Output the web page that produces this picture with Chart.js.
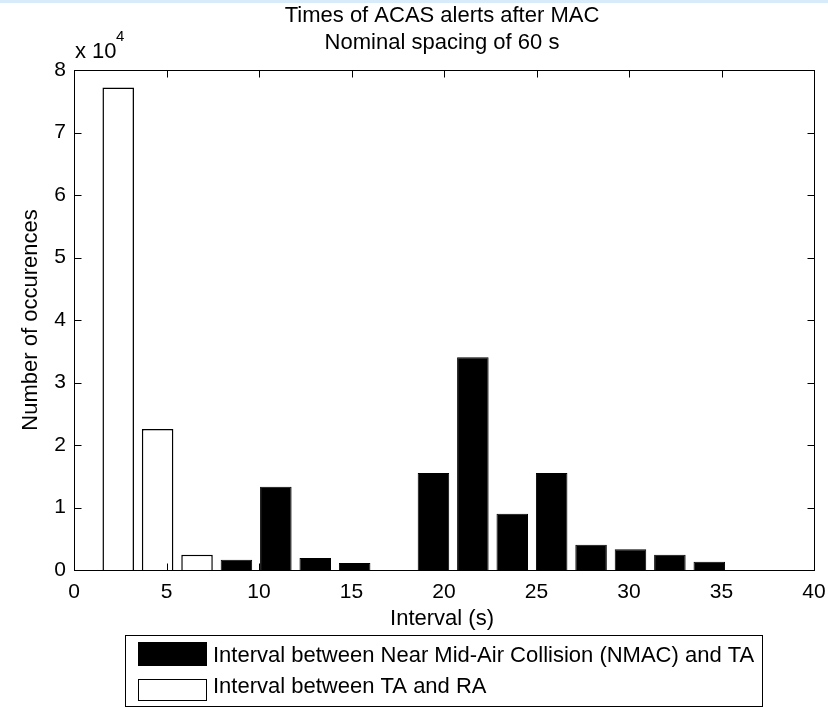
<!DOCTYPE html>
<html>
<head>
<meta charset="utf-8">
<script src="https://cdn.jsdelivr.net/npm/chart.js@4.4.1/dist/chart.umd.min.js"></script>
<style>
  html, body { margin: 0; padding: 0; background: #ffffff; }
  #wrap { position: relative; width: 828px; height: 708px; }
  canvas { display: block; }
</style>
</head>
<body>
<div id="wrap"><canvas id="c" width="828" height="708"></canvas></div>
<script>
// ---- Data ----
const titleLines = ["Times of ACAS alerts after MAC", "Nominal spacing of 60 s"];
const xAxisTitle = "Interval (s)";
const yAxisTitle = "Number of occurences";
const seriesNames = ["Interval between Near Mid-Air Collision (NMAC) and TA", "Interval between TA and RA"];
const binCenters = [2.39, 4.52, 6.65, 8.78, 10.91, 13.04, 15.17, 17.30, 19.43, 21.56, 23.69, 25.82, 27.95, 30.08, 32.21, 34.34];
const nmacToTA   = [0, 0, 0, 1650, 13330, 1920, 1120, 0, 15520, 34030, 9010, 15520, 4050, 3310, 2450, 1330];
const taToRA     = [77200, 22560, 2450, 0, 0, 0, 0, 0, 0, 0, 0, 0, 0, 0, 0, 0];
const xTicks = [0, 5, 10, 15, 20, 25, 30, 35, 40];
const yTicks = [0, 10000, 20000, 30000, 40000, 50000, 60000, 70000, 80000];
const yExponentBase = "x 10";
const yExponent = "4";

const FONT = "'Liberation Sans', Arial, Helvetica, sans-serif";

function toPoints(vals) {
  const pts = [];
  for (let i = 0; i < binCenters.length; i++) {
    if (vals[i] > 0) pts.push({ x: binCenters[i], y: vals[i] });
  }
  return pts;
}

const decorPlugin = {
  id: 'decor',
  beforeDraw(chart) {
    const ctx = chart.ctx;
    ctx.save();
    ctx.fillStyle = '#ffffff';
    ctx.fillRect(0, 0, chart.width, chart.height);
    ctx.fillStyle = '#d8ebfb';
    ctx.fillRect(0, 0, chart.width, 3);
    ctx.restore();
  },
  afterDraw(chart) {
    const ctx = chart.ctx;
    const a = chart.chartArea;
    const xs = chart.scales.x, ys = chart.scales.y;
    ctx.save();
    // axes box
    ctx.strokeStyle = '#000';
    ctx.lineWidth = 1;
    const L = Math.round(a.left) + 0.5, R = Math.round(a.right) + 0.5;
    const T = Math.round(a.top) + 0.5, B = Math.round(a.bottom) + 0.5;
    ctx.strokeRect(L, T, R - L, B - T);
    // inward ticks
    const tl = 7;
    ctx.beginPath();
    xTicks.forEach(v => {
      const px = Math.round(xs.getPixelForValue(v)) + 0.5;
      ctx.moveTo(px, B); ctx.lineTo(px, B - tl);
      ctx.moveTo(px, T); ctx.lineTo(px, T + tl);
    });
    yTicks.forEach(v => {
      const py = Math.round(ys.getPixelForValue(v)) + 0.5;
      ctx.moveTo(L, py); ctx.lineTo(L + tl, py);
      ctx.moveTo(R, py); ctx.lineTo(R - tl, py);
    });
    ctx.stroke();

    ctx.fillStyle = '#000';
    // title
    const cx = (a.left + a.right) / 2 - 2;
    ctx.font = '22px ' + FONT;
    ctx.textAlign = 'center';
    ctx.textBaseline = 'alphabetic';
    ctx.fillText(titleLines[0], cx, 22);
    ctx.fillText(titleLines[1], cx, 49);
    // exponent label
    ctx.textAlign = 'left';
    ctx.fillText(yExponentBase, 75, 58);
    ctx.font = '15px ' + FONT;
    ctx.fillText(yExponent, 116, 41);
    // axis titles
    ctx.font = '22px ' + FONT;
    ctx.textAlign = 'center';
    ctx.fillText(xAxisTitle, cx, 625);
    ctx.save();
    ctx.translate(37, (a.top + a.bottom) / 2);
    ctx.rotate(-Math.PI / 2);
    ctx.fillText(yAxisTitle, 0, 0);
    ctx.restore();

    // legend
    const lx = 125, ly = 635, lw = 637, lh = 71;
    ctx.fillStyle = '#fff';
    ctx.fillRect(lx, ly, lw, lh);
    ctx.strokeStyle = '#000';
    ctx.strokeRect(lx + 0.5, ly + 0.5, lw, lh);
    const sw = [
      { y: 642, h: 24, fill: chart.data.datasets[0].backgroundColor, ty: 662 },
      { y: 679, h: 22, fill: chart.data.datasets[1].backgroundColor, ty: 693 }
    ];
    ctx.font = '22px ' + FONT;
    ctx.textAlign = 'left';
    chart.data.datasets.forEach((ds, i) => {
      const s = sw[i];
      ctx.fillStyle = s.fill;
      ctx.fillRect(138, s.y, 69, s.h);
      ctx.strokeStyle = '#000';
      ctx.strokeRect(138.5, s.y + 0.5, 68, s.h - 1);
      ctx.fillStyle = '#000';
      ctx.fillText(ds.label, 213, s.ty);
    });
    ctx.restore();
  }
};

new Chart(document.getElementById('c'), {
  type: 'bar',
  data: {
    datasets: [
      {
        label: seriesNames[0],
        data: toPoints(nmacToTA),
        backgroundColor: '#000000',
        borderColor: '#000000',
        borderWidth: 1,
        grouped: false,
        barPercentage: 0.8,
        categoryPercentage: 1.0
      },
      {
        label: seriesNames[1],
        data: toPoints(taToRA),
        backgroundColor: '#ffffff',
        borderColor: '#000000',
        borderWidth: 1.5,
        grouped: false,
        barPercentage: 0.8,
        categoryPercentage: 1.0
      }
    ]
  },
  options: {
    responsive: false,
    animation: false,
    layout: { padding: { left: 0, top: 70, right: 14, bottom: 0 } },
    plugins: {
      legend: { display: false },
      title: { display: false },
      tooltip: { enabled: false }
    },
    scales: {
      x: {
        type: 'linear',
        min: 0, max: 40,
        offset: false,
        afterFit(s) { s.height = 138; s.paddingLeft = 0; s.paddingRight = 0; },
        afterBuildTicks(s) { s.ticks = xTicks.map(v => ({ value: v })); },
        grid: { display: false, drawTicks: false },
        border: { display: false },
        ticks: { color: '#000', padding: 10, font: { family: FONT, size: 21 }, maxRotation: 0, autoSkip: false }
      },
      y: {
        min: 0, max: 80000,
        afterFit(s) { s.width = 74; s.paddingTop = 0; s.paddingBottom = 0; },
        afterBuildTicks(s) { s.ticks = yTicks.map(v => ({ value: v })); },
        grid: { display: false, drawTicks: false },
        border: { display: false },
        ticks: {
          color: '#000', padding: 8, font: { family: FONT, size: 21 },
          callback: v => String(v / 10000)
        }
      }
    }
  },
  plugins: [decorPlugin]
});
</script>
</body>
</html>
